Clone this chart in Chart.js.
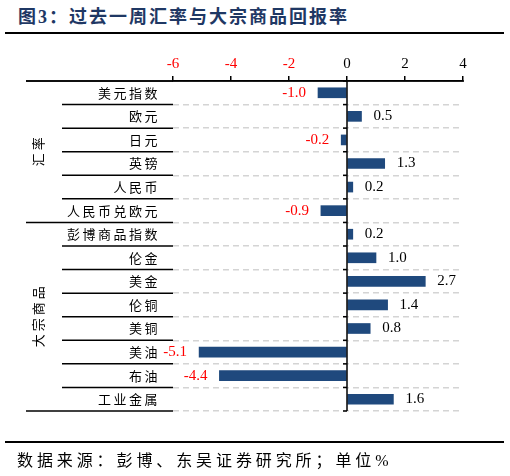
<!DOCTYPE html>
<html>
<head>
<meta charset="utf-8">
<script src="https://cdn.jsdelivr.net/npm/chart.js@4"></script>
<style>
body{margin:0;width:510px;height:476px;background:#fff;position:relative;overflow:hidden}
#title{position:absolute;left:18px;top:6px;font:bold 18px "Liberation Serif","Noto Sans CJK SC";color:#1f3864;letter-spacing:2px;line-height:22px;white-space:nowrap}
.rule{position:absolute;left:5px;width:499px;height:2px;background:#000}
#src{position:absolute;left:17px;top:451px;font:16px "Liberation Serif","Noto Sans CJK SC";letter-spacing:3.9px;line-height:20px;white-space:nowrap}
canvas{position:absolute;left:0;top:0}
</style>
</head>
<body>
<div id="title">图3：过去一周汇率与大宗商品回报率</div>
<div class="rule" style="top:32px"></div>
<canvas id="chart" width="510" height="476"></canvas>
<div class="rule" style="top:441px"></div>
<div id="src">数据来源：彭博、东吴证券研究所；单位%</div>
<script>
// data
const categories = ['美元指数', '欧元', '日元', '英镑', '人民币', '人民币兑欧元',
    '彭博商品指数', '伦金', '美金', '伦铜', '美铜', '美油', '布油', '工业金属'];
const returns = [-1.0, 0.5, -0.2, 1.3, 0.2, -0.9, 0.2, 1.0, 2.7, 1.4, 0.8, -5.1, -4.4, 1.6];
const groups = ['汇率', '大宗商品'];
const groupSizes = [6, 8];
const xMin = -6;
const xMax = 4;
const xStep = 2;

const barColor = '#1f497d';

// left table, zero line and value labels
const tablePlugin = {
    id: 'table',
    afterDraw(chart) {
        const ctx = chart.ctx;
        const area = chart.chartArea;
        const xs = chart.scales.x;
        const step = (area.bottom - area.top) / categories.length;

        // group boundaries
        const groupEdges = [0];
        groupSizes.forEach(s => groupEdges.push(groupEdges[groupEdges.length - 1] + s));

        ctx.save();
        ctx.strokeStyle = '#000';
        ctx.lineWidth = 1.5;
        for (let i = 0; i <= categories.length; i++) {
            const yy = area.top + i * step;
            const start = groupEdges.includes(i) ? 26 : 62;
            ctx.beginPath();
            ctx.moveTo(start, yy);
            ctx.lineTo(area.left, yy);
            ctx.stroke();
        }
        // top axis line across the whole table
        ctx.beginPath();
        ctx.moveTo(26, area.top);
        ctx.lineTo(area.right + 1, area.top);
        ctx.stroke();

        // zero line with small ticks
        const x0 = xs.getPixelForValue(0);
        ctx.beginPath();
        ctx.moveTo(x0, area.top);
        ctx.lineTo(x0, area.bottom);
        ctx.stroke();
        for (let i = 0; i <= categories.length; i++) {
            const yy = area.top + i * step;
            ctx.beginPath();
            ctx.moveTo(x0 - 4, yy);
            ctx.lineTo(x0, yy);
            ctx.stroke();
        }

        // category labels
        ctx.fillStyle = '#000';
        ctx.font = '13px "Noto Sans CJK SC"';
        ctx.letterSpacing = '2.5px';
        ctx.textAlign = 'right';
        ctx.textBaseline = 'middle';
        categories.forEach((c, i) => {
            const yy = chart.scales.y.getPixelForValue(i);
            ctx.fillText(c, 160, yy);
        });

        // group labels, rotated
        ctx.letterSpacing = '3px';
        ctx.textAlign = 'center';
        groups.forEach((g, k) => {
            const top = area.top + groupEdges[k] * step;
            const bottom = area.top + groupEdges[k + 1] * step;
            ctx.save();
            ctx.translate(38, (top + bottom) / 2);
            ctx.rotate(-Math.PI / 2);
            ctx.fillText(g, 1.5, 0);
            ctx.restore();
        });
        ctx.letterSpacing = '0px';

        // value labels
        ctx.font = '15px "Liberation Serif"';
        const meta = chart.getDatasetMeta(0);
        meta.data.forEach((bar, i) => {
            const v = returns[i];
            const txt = v.toFixed(1);
            if (v < 0) {
                ctx.fillStyle = '#ff0000';
                ctx.textAlign = 'right';
                ctx.fillText(txt, bar.x - 12, bar.y);
            } else {
                ctx.fillStyle = '#000';
                ctx.textAlign = 'left';
                ctx.fillText(txt, bar.x + 12, bar.y);
            }
        });
        ctx.restore();
    }
};

new Chart(document.getElementById('chart'), {
    type: 'bar',
    data: {
        labels: categories,
        datasets: [{
            data: returns,
            backgroundColor: barColor,
            borderWidth: 0,
            barThickness: 10
        }]
    },
    options: {
        indexAxis: 'y',
        responsive: false,
        animation: false,
        devicePixelRatio: 1,
        layout: { padding: { top: 50, right: 47, bottom: 65, left: 0 } },
        plugins: {
            legend: { display: false },
            tooltip: { enabled: false }
        },
        scales: {
            x: {
                position: 'top',
                min: xMin,
                max: xMax,
                afterFit(scale) { scale.height = 31; },
                ticks: {
                    stepSize: xStep,
                    padding: 3,
                    font: { family: '"Liberation Serif"', size: 15 },
                    color: ctx => ctx.tick.value < 0 ? '#ff0000' : '#000'
                },
                grid: {
                    drawOnChartArea: false,
                    drawTicks: true,
                    tickLength: 5,
                    color: '#000',
                    lineWidth: 1.5
                },
                border: { display: true, color: '#000', width: 1.5 }
            },
            y: {
                afterFit(scale) { scale.width = 173; },
                ticks: { display: false },
                grid: {
                    offset: true,
                    drawTicks: false,
                    color: '#d4d4d4',
                    lineWidth: 1.5
                },
                border: { display: false, dash: [6, 4] }
            }
        }
    },
    plugins: [tablePlugin]
});
</script>
</body>
</html>
